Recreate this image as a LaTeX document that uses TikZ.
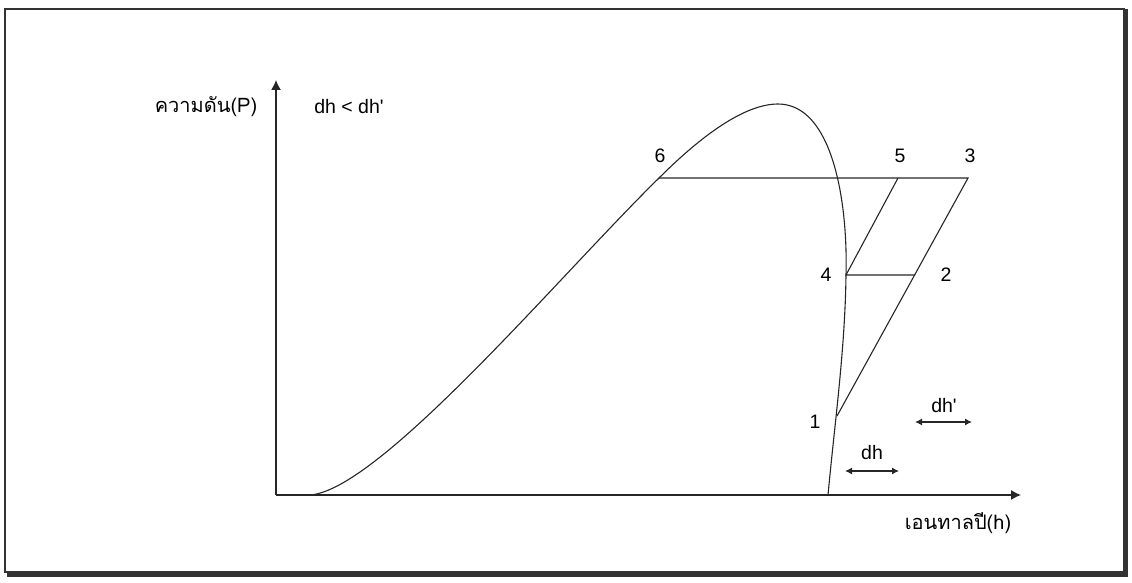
\documentclass[tikz,border=0pt]{standalone}
\usepackage{fontspec}
\setmainfont{Liberation Sans}
\newfontfamily\arialfont{Liberation Sans}
\newfontfamily\thaifont[Script=Thai]{Loma}
\usetikzlibrary{arrows.meta}
\begin{document}
\begin{tikzpicture}[x=1pt,y=-1pt,
  lbl/.style={font=\arialfont\fontsize{19.5}{22}\selectfont, inner sep=1pt},
  thailbl/.style={font=\thaifont\fontsize{20}{22}\selectfont, inner sep=1pt},
  ln/.style={line width=1.1pt, black!85},
  axis/.style={line width=1.3pt, black!85, -{Latex[length=10pt,width=10pt]}},
  dharrow/.style={line width=1.1pt, black!85, {Latex[length=7pt,width=7pt]}-{Latex[length=7pt,width=7pt]}}]
\useasboundingbox (0,0) rectangle (1132,583);
% frame
\draw[line width=2pt, black!80] (5,9) rectangle (1124,572);
\draw[line width=4pt, black!80] (1126,9) -- (1126,575) -- (7,575);
% axes
\coordinate (O) at (276,495);
\coordinate (ytip) at (276,80);
\coordinate (xtip) at (1021,495);
\draw[axis] (O) -- (ytip);
\draw[axis] (O) -- (xtip);
% points
\coordinate (p1) at (837,416);
\coordinate (p2) at (915,275);
\coordinate (p3) at (968,178);
\coordinate (p4) at (846,275);
\coordinate (p5) at (898,178);
\coordinate (p6) at (659,178);
% saturation dome
\coordinate (s0) at (310,495);
\coordinate (sp) at (778,104);
\coordinate (sb) at (828,495);
\draw[ln] (s0) .. controls (380,490) and (560,275) .. (p6)
  .. controls (702,135) and (745,104) .. (sp)
  .. controls (832,104) and (848,200) .. (p4)
  .. controls (845,350) and (835,420) .. (sb);
% cycle lines
\draw[ln] (p6) -- (p3) -- (p1);
\draw[ln] (p5) -- (p4) -- (p2);
% labels
\node[lbl] (l6) at (660,156) {6};
\node[lbl] (l5) at (900,156) {5};
\node[lbl] (l3) at (970,156) {3};
\node[lbl] (l4) at (826,275) {4};
\node[lbl] (l2) at (946,275) {2};
\node[lbl] (l1) at (815,422) {1};
\node[lbl] (ldh) at (872,453) {dh};
\node[lbl] (ldhp) at (944,406) {dh'};
\coordinate (a1) at (845,471);
\coordinate (a2) at (899,471);
\coordinate (b1) at (915,422);
\coordinate (b2) at (972,422);
\draw[dharrow] (a1) -- (a2);
\draw[dharrow] (b1) -- (b2);
\node[thailbl] (ylab) at (206,107) {ความดัน(P)};
\node[lbl] (cmp) at (349,107) {dh < dh'};
\node[thailbl] (xlab) at (958,523) {เอนทาลปี(h)};
\end{tikzpicture}
\end{document}
